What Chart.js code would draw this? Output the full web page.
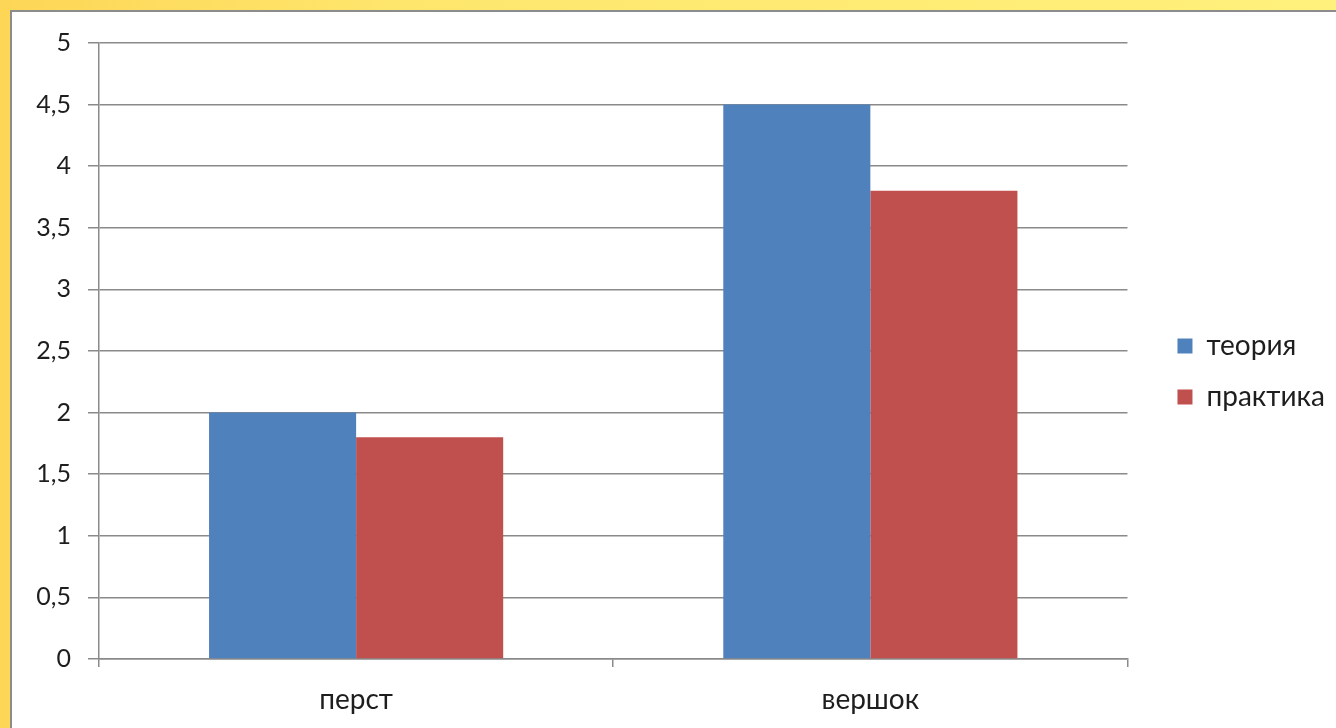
<!DOCTYPE html>
<html>
<head>
<meta charset="utf-8">
<script src="https://cdn.jsdelivr.net/npm/chart.js@4"></script>
<style>
    html, body { margin: 0; padding: 0; }
    body {
        width: 1336px; height: 728px; overflow: hidden;
        background: linear-gradient(90deg, #fdd656 0%, #fee66c 30%, #fff17c 100%);
        position: relative;
    }
    .panel {
        position: absolute; left: 10px; top: 10px; right: 0; bottom: 0;
        background: #ffffff;
        border-left: 2px solid #8c8c8c;
        border-top: 2px solid #8c8c8c;
    }
    #wrap { position: absolute; left: 0; top: 0; width: 1336px; height: 728px; }
</style>
</head>
<body>
<div class="panel"></div>
<div id="wrap"><canvas id="barChart"></canvas></div>
<script>
// данные диаграммы
const categories = ['перст', 'вершок'];
const teoriya = [2, 4.5];
const praktika = [1.8, 3.8];
const seriesNames = ['теория', 'практика'];

Chart.defaults.font.family = "Lato, 'Open Sans', sans-serif";
Chart.defaults.color = '#1e1e1e';

const ctx = document.getElementById('barChart').getContext('2d');

// пустые оси — только отступы (сверху и до легенды)
const spacer = (pos, size) => ({
    position: pos,
    display: true,
    ticks: { display: false },
    grid: { display: false },
    border: { display: false },
    afterFit: (scale) => {
        if (pos === 'top') scale.height = size; else scale.width = size;
    }
});

new Chart(ctx, {
    type: 'bar',
    data: {
        labels: categories,
        datasets: [
            { label: seriesNames[0], data: teoriya, backgroundColor: '#4f81bd' },
            { label: seriesNames[1], data: praktika, backgroundColor: '#c0504d' }
        ]
    },
    options: {
        responsive: true,
        maintainAspectRatio: false,
        animation: false,
        layout: { padding: { top: 15, right: 1, bottom: 0, left: 0 } },
        datasets: {
            bar: { categoryPercentage: 0.572, barPercentage: 1.0 }
        },
        scales: {
            x: {
                grid: { display: true, drawOnChartArea: false, offset: true, tickLength: 8, color: '#8a8a8a', lineWidth: 1.5 },
                border: { color: '#8a8a8a', width: 1.5 },
                ticks: { font: { size: 28 }, padding: 16 },
                afterFit: (scale) => { scale.height = 69; }
            },
            y: {
                min: 0,
                max: 5,
                ticks: {
                    stepSize: 0.5,
                    font: { size: 25 },
                    padding: 17,
                    callback: (v) => String(v).replace('.', ',')
                },
                grid: { color: '#8a8a8a', lineWidth: 1.5, tickLength: 11 },
                border: { color: '#8a8a8a', width: 1.5 },
                afterFit: (scale) => { scale.width = 99; }
            },
            topGap: spacer('top', 28),
            rightGap: spacer('right', 27)
        },
        plugins: {
            legend: {
                position: 'right',
                labels: {
                    boxWidth: 15,
                    boxHeight: 15,
                    padding: 23,
                    font: { size: 28 }
                }
            },
            tooltip: { enabled: false }
        }
    }
});
</script>
</body>
</html>
